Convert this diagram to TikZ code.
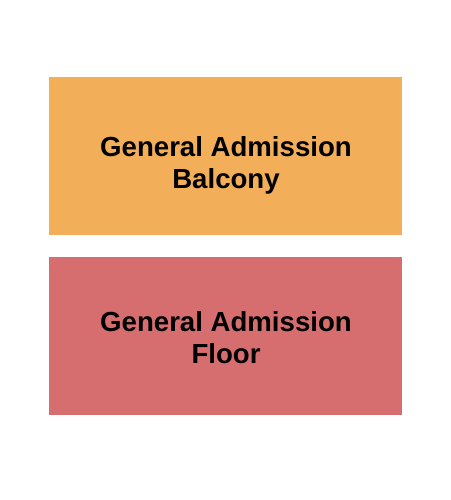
\documentclass[tikz,border=0pt]{standalone}
\usepackage{fontspec}
\setmainfont{Liberation Sans}
\definecolor{balconyorange}{RGB}{243,174,90}
\definecolor{floorred}{RGB}{214,110,111}
\begin{document}
\begin{tikzpicture}[x=1pt,y=-1pt,
  section/.style={inner sep=0pt,outer sep=0pt,draw=none},
  seclabel/.style={font=\fontsize{27.6}{32.5}\selectfont\bfseries,align=center,text=black,inner sep=0pt}]
\useasboundingbox (0,0) rectangle (450,500);
\fill[white] (0,0) rectangle (450,500);
\node[section,fill=balconyorange,minimum width=353pt,minimum height=158pt,anchor=north west] (balcony) at (49,77) {};
\node[section,fill=floorred,minimum width=353pt,minimum height=158pt,anchor=north west] (floor) at (49,257) {};
\node[seclabel,anchor=base] (balconytext1) at (226,156) {General Admission};
\node[seclabel,anchor=base] (balconytext2) at (226,188.5) {Balcony};
\node[seclabel,anchor=base] (floortext1) at (226,331) {General Admission};
\node[seclabel,anchor=base] (floortext2) at (226,363.5) {Floor};
\end{tikzpicture}
\end{document}
